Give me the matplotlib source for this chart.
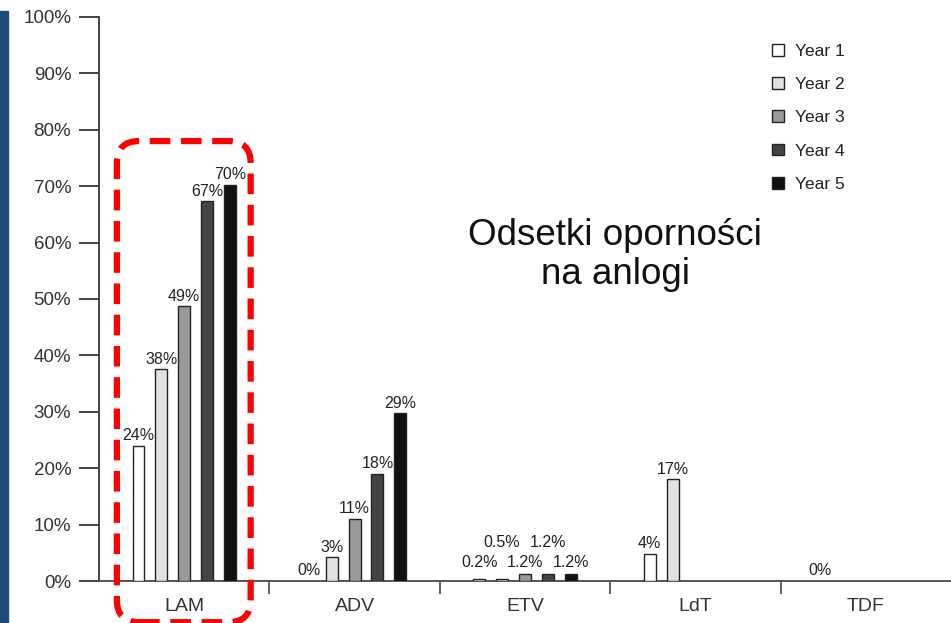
import matplotlib
matplotlib.use("Agg")
import matplotlib.pyplot as plt
from matplotlib.patches import FancyBboxPatch, Rectangle
import numpy as np

plt.rcParams['font.family'] = ['Liberation Sans', 'DejaVu Sans']

# --- data ---
drugs = ["LAM", "ADV", "ETV", "LdT", "TDF"]
years = ["Year 1", "Year 2", "Year 3", "Year 4", "Year 5"]
year_colors = ["#ffffff", "#e2e2e2", "#9a9a9a", "#444444", "#111111"]

# bar heights (%), per year, one value per drug (None = no bar)
year1 = [24.0, 0.0, 0.4, 4.8, 0.0]
year2 = [37.5, 4.2, 0.4, 18.0, None]
year3 = [48.7, 11.0, 1.3, None, None]
year4 = [67.3, 19.0, 1.3, None, None]
year5 = [70.2, 29.7, 1.3, None, None]

# printed labels
labels1 = ["24%", "0%", "0.2%", "4%", "0%"]
labels2 = ["38%", "3%", "0.5%", "17%", None]
labels3 = ["49%", "11%", "1.2%", None, None]
labels4 = ["67%", "18%", "1.2%", None, None]
labels5 = ["70%", "29%", "1.2%", None, None]

heights = [year1, year2, year3, year4, year5]
labels = [labels1, labels2, labels3, labels4, labels5]

fig = plt.figure(figsize=(9.51, 6.23), dpi=100)
ax = fig.add_axes([99 / 951, 42 / 623, 852 / 951, 564 / 623])

x = np.arange(len(drugs))
step = 0.134
width = 0.07

for i in range(len(years)):
    off = (i - 2) * step
    for j in range(len(drugs)):
        h = heights[i][j]
        if h is not None and h > 0:
            ax.bar(x[j] + off, h, width, color=year_colors[i],
                   edgecolor="#222222", linewidth=1.0, zorder=3)
        lab = labels[i][j]
        if lab is not None:
            hh = h if h else 0
            dy = 2
            # ETV labels are staggered in two rows
            if drugs[j] == "ETV":
                hh = 1.3
                dy = 17 if i in (1, 3) else 2.5
            ax.annotate(lab, (x[j] + off, hh), xytext=(0, dy),
                        textcoords="offset points", ha="center", va="bottom",
                        fontsize=11.5, color="#222222", zorder=4)

# legend-like handles (no frame)
for i, y in enumerate(years):
    ax.bar([0], [0], color=year_colors[i], edgecolor="#222222",
           linewidth=1.0, label=y)
leg = ax.legend(loc="upper left", bbox_to_anchor=(0.772, 0.98), frameon=False,
                fontsize=12.5, handlelength=0.65, handleheight=0.65,
                labelspacing=1.05, handletextpad=0.65)
for t in leg.get_texts():
    t.set_color("#222222")

ax.set_xlim(-0.5, 4.5)
ax.set_ylim(0, 100)
ax.set_yticks(np.arange(0, 101, 10))
ax.set_yticklabels([f"{v}%" for v in range(0, 101, 10)])
ax.tick_params(axis="y", length=14.5, width=1.4, color="#444444",
               labelsize=13.5, labelcolor="#333333", pad=5.5)

# category labels centered, separator ticks between groups
ax.set_xticks([0.5, 1.5, 2.5, 3.5])
ax.set_xticklabels([])
ax.tick_params(axis="x", length=9, width=1.2, color="#444444")
for j, d in enumerate(drugs):
    ax.text(x[j], -4.6, d, ha="center", va="center", fontsize=14,
            color="#333333")

for s in ["top", "right"]:
    ax.spines[s].set_visible(False)
ax.spines["left"].set_color("#444444")
ax.spines["bottom"].set_color("#555555")
ax.spines["left"].set_linewidth(1.4)
ax.spines["bottom"].set_linewidth(1.4)

ax.text(2.53, 57.8, "Odsetki oporności\nna anlogi", ha="center", va="center",
        fontsize=26.5, color="#111111", linespacing=1.14)

# red dashed highlight around LAM
box = FancyBboxPatch((-0.395, -7.3), 0.785, 85.3,
                     boxstyle="round,pad=0,rounding_size=0.13",
                     mutation_aspect=30, fill=False, edgecolor="#ff0000",
                     linewidth=4.5, linestyle=(0, (3.3, 1.7)),
                     clip_on=False, zorder=6, transform=ax.transData)
ax.add_patch(box)

# dark blue strip on the left edge
fig.patches.append(Rectangle((0, 0), 8 / 951, 612 / 623, color="#1f4a7d",
                             transform=fig.transFigure, zorder=0))

fig.savefig("out.png", dpi=100)
